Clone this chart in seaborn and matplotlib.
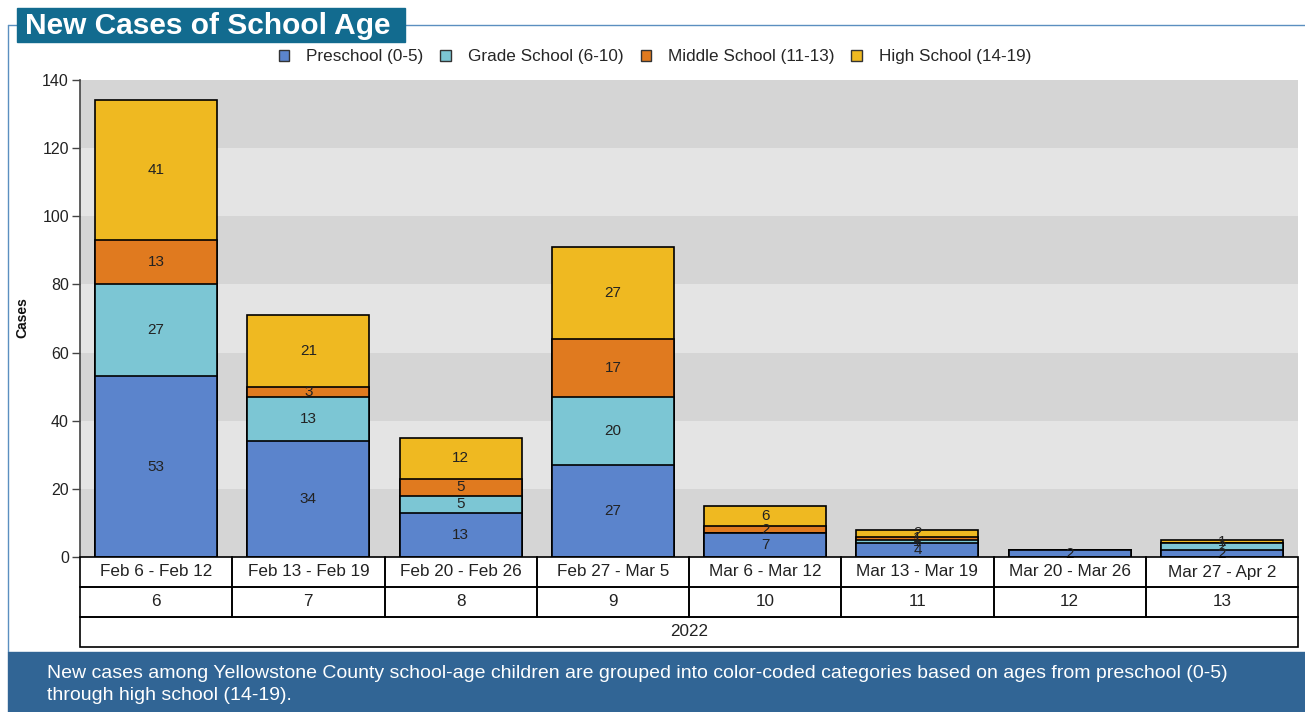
import matplotlib
matplotlib.use("Agg")
import matplotlib.pyplot as plt
from matplotlib.patches import Rectangle, Patch
import seaborn as sns
import numpy as np
import pandas as pd

weeks = ["Feb 6 - Feb 12", "Feb 13 - Feb 19", "Feb 20 - Feb 26", "Feb 27 - Mar 5",
         "Mar 6 - Mar 12", "Mar 13 - Mar 19", "Mar 20 - Mar 26", "Mar 27 - Apr 2"]
week_nums = ["6", "7", "8", "9", "10", "11", "12", "13"]
year_label = "2022"
series_names = ["Preschool (0-5)", "Grade School (6-10)", "Middle School (11-13)", "High School (14-19)"]
preschool = [53, 34, 13, 27, 7, 4, 2, 2]
grade_school = [27, 13, 5, 20, 0, 1, 0, 2]
middle_school = [13, 3, 5, 17, 2, 1, 0, 0]
high_school = [41, 21, 12, 27, 6, 2, 0, 1]
yticks = [0, 20, 40, 60, 80, 100, 120, 140]

colors = ["#5b84cc", "#7cc6d4", "#e07a1f", "#efb921"]

sns.set_style("white")
plt.rcParams['font.family'] = ['Liberation Sans', 'DejaVu Sans']

fig = plt.figure(figsize=(13.05, 7.12), dpi=100)
W, H = 1305, 712

def fx(px):
    return px / W

def fy(py):
    return 1 - py / H

ax = fig.add_axes([fx(80), fy(557), fx(1298) - fx(80), fy(80) - fy(557)])

# background bands
for i, lo in enumerate(range(0, 140, 20)):
    ax.axhspan(lo, lo + 20, color="#d5d5d5" if i % 2 == 0 else "#e4e4e4", zorder=0, lw=0)

series = [preschool, grade_school, middle_school, high_school]
cum = np.cumsum(np.array(series), axis=0)
df = pd.DataFrame({"week": weeks})
for k in range(3, -1, -1):
    sns.barplot(x=df["week"], y=cum[k], color=colors[k], saturation=1, width=0.8,
                edgecolor="black", linewidth=1.2, ax=ax, order=weeks, zorder=2)

# labels
for k in range(4):
    base = cum[k] - np.array(series[k])
    for i, v in enumerate(series[k]):
        if v > 0:
            ax.text(i, base[i] + v / 2, str(v), ha="center", va="center", fontsize=11,
                    color="#222222", zorder=5)

ax.set_xlim(-0.5, 7.5)
ax.set_ylim(0, 140)
ax.set_yticks(yticks)
ax.set_yticklabels([str(t) for t in yticks], fontsize=11.5, color="#222222")
ax.set_xticks([])
ax.set_xlabel("")
ax.set_ylabel("")
ax.tick_params(axis="y", direction="out", length=6, width=1, color="#444444", pad=2, left=True)
for s in ["top", "right", "bottom"]:
    ax.spines[s].set_visible(False)
ax.spines["left"].set_color("#444444")
ax.spines["left"].set_linewidth(1.2)
fig.text(fx(22), fy(318), "Cases", rotation=90, ha="center", va="center",
         fontsize=10, fontweight="bold", color="#111111")

# table below
tax = fig.add_axes([fx(80), fy(647), fx(1298) - fx(80), fy(557) - fy(647)])
tax.set_xlim(-0.5, 7.5)
tax.set_ylim(0, 3)
tax.axis("off")
for i in range(len(weeks)):
    tax.add_patch(Rectangle((i - 0.5, 2), 1, 1, fill=False, ec="black", lw=1.2, clip_on=False))
    tax.add_patch(Rectangle((i - 0.5, 1), 1, 1, fill=False, ec="black", lw=1.2, clip_on=False))
    tax.text(i, 2.5, weeks[i], ha="center", va="center", fontsize=12.3, color="#222222")
    tax.text(i, 1.5, week_nums[i], ha="center", va="center", fontsize=12.3, color="#222222")
tax.add_patch(Rectangle((-0.5, 0), 8, 1, fill=False, ec="black", lw=1.2, clip_on=False))
tax.text(3.5, 0.5, year_label, ha="center", va="center", fontsize=12.3, color="#222222")

# legend
handles = [Patch(facecolor=c, edgecolor="#333333", linewidth=1) for c in colors]
fig.legend(handles, series_names, loc="center", bbox_to_anchor=(fx(655), fy(57)), ncol=4,
           frameon=False, fontsize=12.3, handlelength=0.6, handleheight=0.6,
           columnspacing=1.0, handletextpad=1.0)

# frame lines
fig.add_artist(plt.Line2D([fx(405), 1], [fy(25), fy(25)], color="#5b8fc0", lw=1))
fig.add_artist(plt.Line2D([fx(8), fx(8)], [fy(25), fy(652)], color="#5b8fc0", lw=1))
fig.add_artist(plt.Line2D([fx(8), fx(17)], [fy(25), fy(25)], color="#5b8fc0", lw=1))

# title box
fig.add_artist(Rectangle((fx(17), fy(42)), fx(405) - fx(17), fy(8) - fy(42),
                         transform=fig.transFigure, color="#126b8f", zorder=3))
fig.text(fx(25), fy(26), "New Cases of School Age", ha="left", va="center",
         fontsize=21.5, fontweight="bold", color="white", zorder=4)

# footer
fig.add_artist(Rectangle((fx(8), 0), 1 - fx(8), fy(652), transform=fig.transFigure,
                         color="#316595", zorder=3))
fig.text(fx(47), fy(673), "New cases among Yellowstone County school-age children are grouped into color-coded categories based on ages from preschool (0-5)",
         ha="left", va="center", fontsize=14, color="white", zorder=4)
fig.text(fx(47), fy(695), "through high school (14-19).",
         ha="left", va="center", fontsize=14, color="white", zorder=4)

fig.savefig("out.png", dpi=100)
